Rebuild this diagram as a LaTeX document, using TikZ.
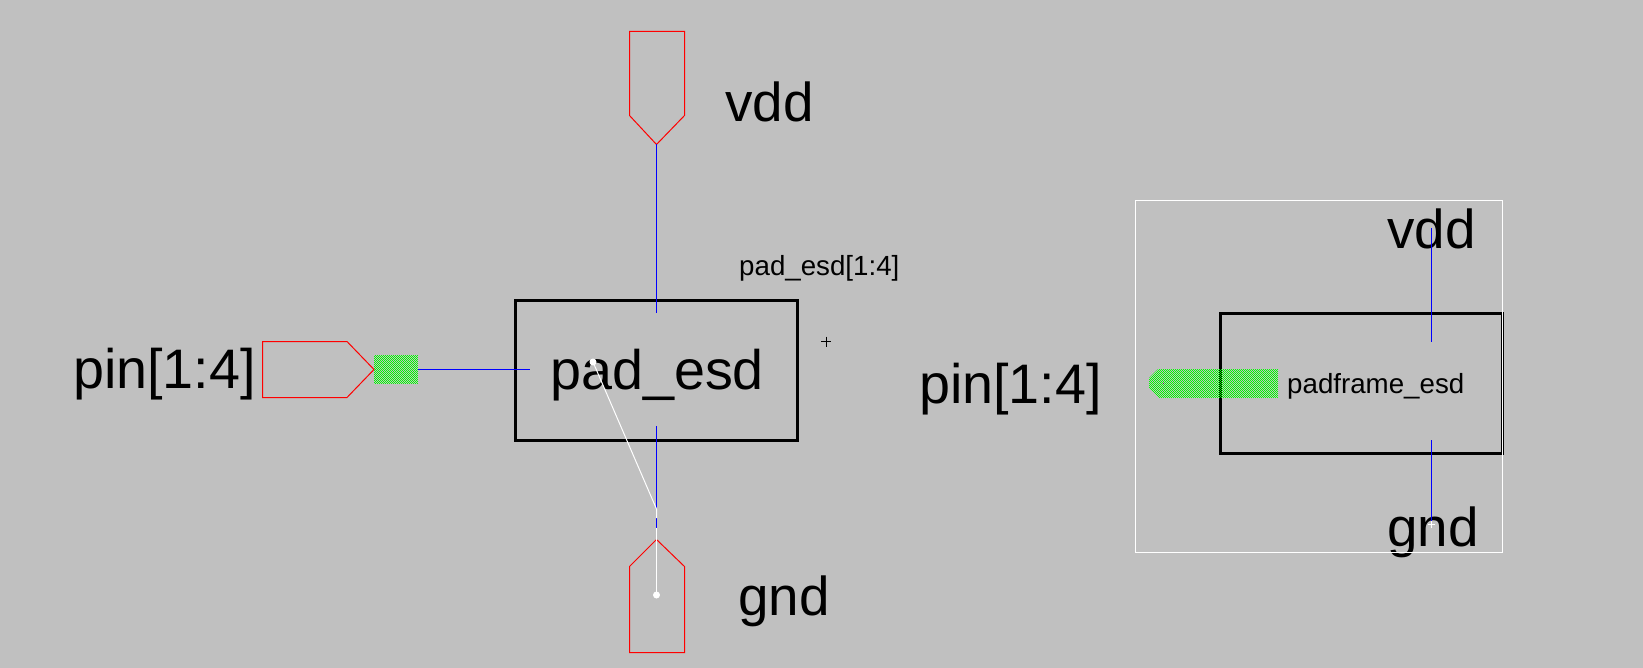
\documentclass[tikz,border=0pt]{standalone}
\usepackage{fontspec}
\setmainfont{Liberation Sans}
\definecolor{bggray}{RGB}{192,192,192}
\definecolor{netblue}{RGB}{0,0,255}
\definecolor{pinred}{RGB}{255,0,0}
\definecolor{hatchgreen}{RGB}{0,255,0}
% one-pixel checkerboard filling the box (x0,y0)-(x1,y1), in whole pixels
\newcommand{\checkerfill}[4]{%
  \foreach \cy in {#2,...,#4}{%
    \pgfmathtruncatemacro{\cstart}{#1+mod(\cy+#1,2)}%
    \pgfmathtruncatemacro{\cnext}{\cstart+2}%
    \foreach \cx in {\cstart,\cnext,...,#3}{%
      \fill[hatchgreen] (\cx,\cy) rectangle ++(1,1);
    }%
  }%
}
\tikzset{
  bigtext/.style={font=\fontsize{55.9}{56}\selectfont,anchor=base west,inner sep=0pt,text=black},
  railtext/.style={font=\fontsize{55}{56}\selectfont,anchor=base west,inner sep=0pt,text=black},
  smalltext/.style={font=\fontsize{27.8}{28}\selectfont,anchor=base west,inner sep=0pt,text=black},
  cellbox/.style={draw=black,line width=3bp,rectangle,inner sep=0pt,outer sep=0pt,anchor=north west},
  frame/.style={draw=white,line width=1bp},
  net/.style={draw=netblue,line width=1bp},
  pinshape/.style={draw=pinred,line width=1bp,line join=miter},
  probe/.style={draw=white,line width=1bp},
  dot/.style={circle,fill=white,inner sep=0pt,minimum size=7bp},
}
\begin{document}
\begin{tikzpicture}[x=1bp,y=-1bp]
\useasboundingbox[fill=bggray] (0,0) rectangle (1643,668);
% labels lie under the wires
\node[railtext] (lvdd) at (725,122) {vdd};
\node[railtext] (lgnd) at (738,615) {gnd};
\node[bigtext] (lpin) at (73,388) {pin[1:4]};
\node[bigtext] (lpad) at (550,389) {pad\_esd};
\node[smalltext] (linst) at (739,275) {pad\_esd[1:4]};
\node[railtext] (rvdd) at (1387,248) {vdd};
\node[railtext] (rgnd) at (1387,546) {gnd};
\node[bigtext] (rpin) at (919,403) {pin[1:4]};
\node[smalltext] (rname) at (1287,393) {padframe\_esd};
% left schematic: pins
\draw[pinshape] (629.5,31.5) -- (684.5,31.5) -- (684.5,115.5) -- (656.5,144.5) -- (629.5,115.5) -- cycle;
\draw[pinshape] (629.5,652.5) -- (684.5,652.5) -- (684.5,566.5) -- (656.5,539.5) -- (629.5,566.5) -- cycle;
\draw[pinshape] (262.5,341.5) -- (347,341.5) -- (374,369.5) -- (347,397.5) -- (262.5,397.5) -- cycle;
\checkerfill{374}{355}{417}{383}
% left symbol
\node[cellbox,minimum width=282.5bp,minimum height=140.5bp] (padbox) at (515,300) {};
\coordinate (vddTip) at (656.5,144.5);
\coordinate (vddIn) at (656.5,313);
\coordinate (gndIn) at (656.5,426);
\coordinate (gndGap) at (656.5,509);
\coordinate (gndGapEnd) at (656.5,518);
\coordinate (gndBlue) at (656.5,527.5);
\coordinate (pinOut) at (418,369.5);
\coordinate (pinIn) at (530,369.5);
\draw[net] (vddTip) -- (vddIn);
\draw[net] (pinOut) -- (pinIn);
\draw[net] (gndIn) -- (gndGap);
\draw[net] (gndGapEnd) -- (gndBlue);
% white probe
\node[dot] (probeA) at (593,362) {};
\node[dot] (probeB) at (656.5,595) {};
\draw[probe] (probeA.center) -- (gndGap) -- (gndGapEnd);
\draw[probe] (gndBlue) -- (probeB.center);
% origin cross
\draw[black,line width=1bp] (821,341.5) -- (831,341.5) (826.5,336.5) -- (826.5,346.5);
% right symbol
\node[cellbox,minimum width=282.5bp,minimum height=140.5bp] (frmbox) at (1220,313) {};
\draw[frame] (1135.5,200.5) rectangle (1502.5,552.5);
\begin{scope}
\clip (1158,369) -- (1278,369) -- (1278,398) -- (1159,398) -- (1149,388) -- (1149,378) -- cycle;
\checkerfill{1149}{369}{1277}{397}
\end{scope}
\fill[black!70] (1163,383) rectangle (1164,384);
\coordinate (rvddA) at (1431.5,228);
\coordinate (rvddB) at (1431.5,341.5);
\coordinate (rgndA) at (1431.5,440);
\coordinate (rgndB) at (1431.5,524.5);
\draw[net] (rvddA) -- (rvddB);
\draw[net] (rgndA) -- (rgndB);
\draw[probe] ([xshift=-3.5bp]rgndB) -- ([xshift=3.5bp]rgndB) ([yshift=-3.5bp]rgndB) -- ([yshift=3.5bp]rgndB);
\end{tikzpicture}
\end{document}
